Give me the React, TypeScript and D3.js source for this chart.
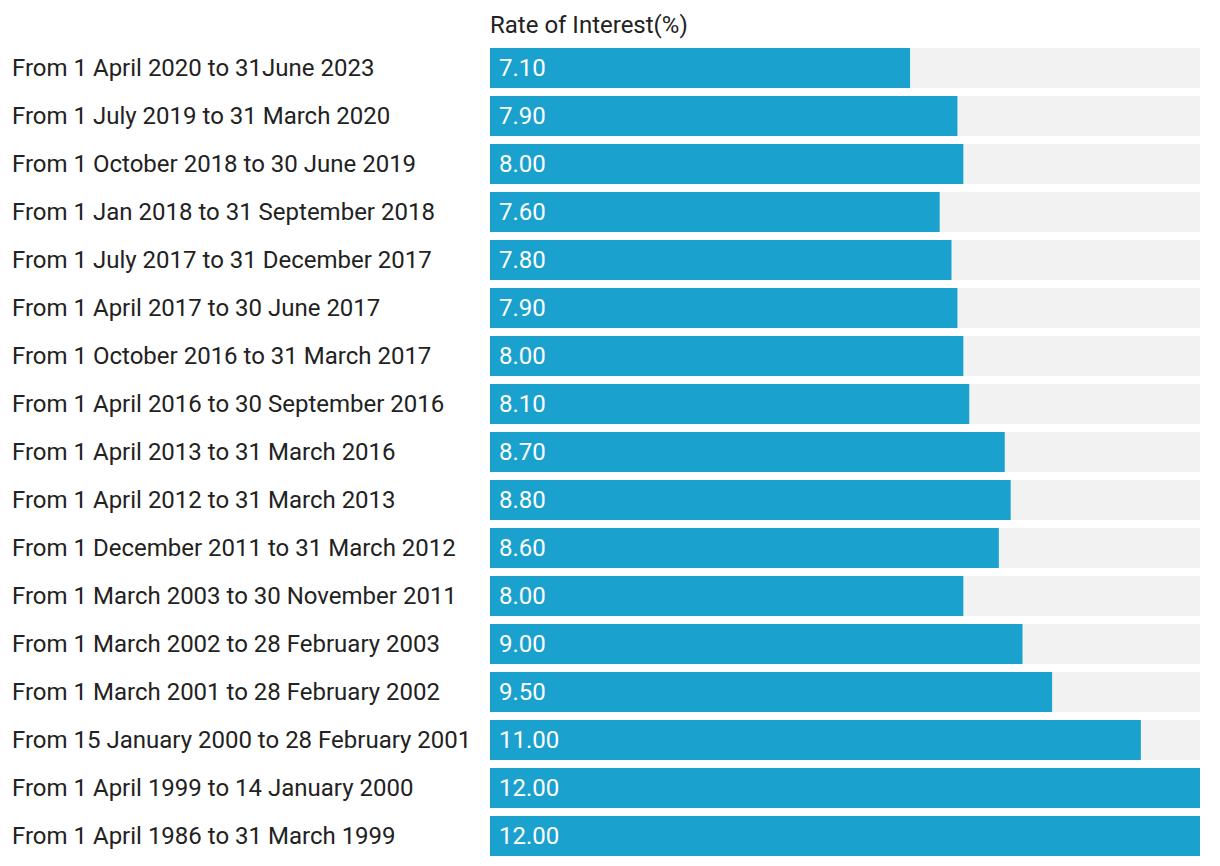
import React from "react";
import * as d3 from "d3";

const periods = [
  "From 1 April 2020 to 31June 2023",
  "From 1 July 2019 to 31 March 2020",
  "From 1 October 2018 to 30 June 2019",
  "From 1 Jan 2018 to 31 September 2018",
  "From 1 July 2017 to 31 December 2017",
  "From 1 April 2017 to 30 June 2017",
  "From 1 October 2016 to 31 March 2017",
  "From 1 April 2016 to 30 September 2016",
  "From 1 April 2013 to 31 March 2016",
  "From 1 April 2012 to 31 March 2013",
  "From 1 December 2011 to 31 March 2012",
  "From 1 March 2003 to 30 November 2011",
  "From 1 March 2002 to 28 February 2003",
  "From 1 March 2001 to 28 February 2002",
  "From 15 January 2000 to 28 February 2001",
  "From 1 April 1999 to 14 January 2000",
  "From 1 April 1986 to 31 March 1999",
];
const rates = [7.1, 7.9, 8.0, 7.6, 7.8, 7.9, 8.0, 8.1, 8.7, 8.8, 8.6, 8.0, 9.0, 9.5, 11.0, 12.0, 12.0];
const header = "Rate of Interest(%)";

export default function App() {
  const W = 1220, H = 866;
  const x0 = 490, x1 = 1200;
  const x = d3.scaleLinear().domain([0, d3.max(rates) as number]).range([x0, x1]);
  const y = d3.scaleBand<number>().domain(d3.range(periods.length)).range([44, 860]).paddingInner(1 / 6).paddingOuter(1 / 12);
  const font = "Roboto, 'Noto Sans', sans-serif";
  return (
    <svg width={W} height={H} style={{ position: "absolute", left: 0, top: 0, background: "#fff" }} fontFamily={font}>
      <text x={x0} y={32.5} fontSize={24} fill="#222">{header}</text>
      {periods.map((p, i) => {
        const yy = y(i) as number;
        const bh = y.bandwidth();
        return (
          <g key={i}>
            <text x={12} y={yy + bh / 2 + 8} fontSize={24} fill="#222">{p}</text>
            <rect x={x0} y={yy} width={x1 - x0} height={bh} fill="#f2f2f2" />
            <rect x={x0} y={yy} width={x(rates[i]) - x0} height={bh} fill="#1aa1cd" />
            <text x={x0 + 9} y={yy + bh / 2 + 8} fontSize={24} fill="#fff">{rates[i].toFixed(2)}</text>
          </g>
        );
      })}
    </svg>
  );
}
